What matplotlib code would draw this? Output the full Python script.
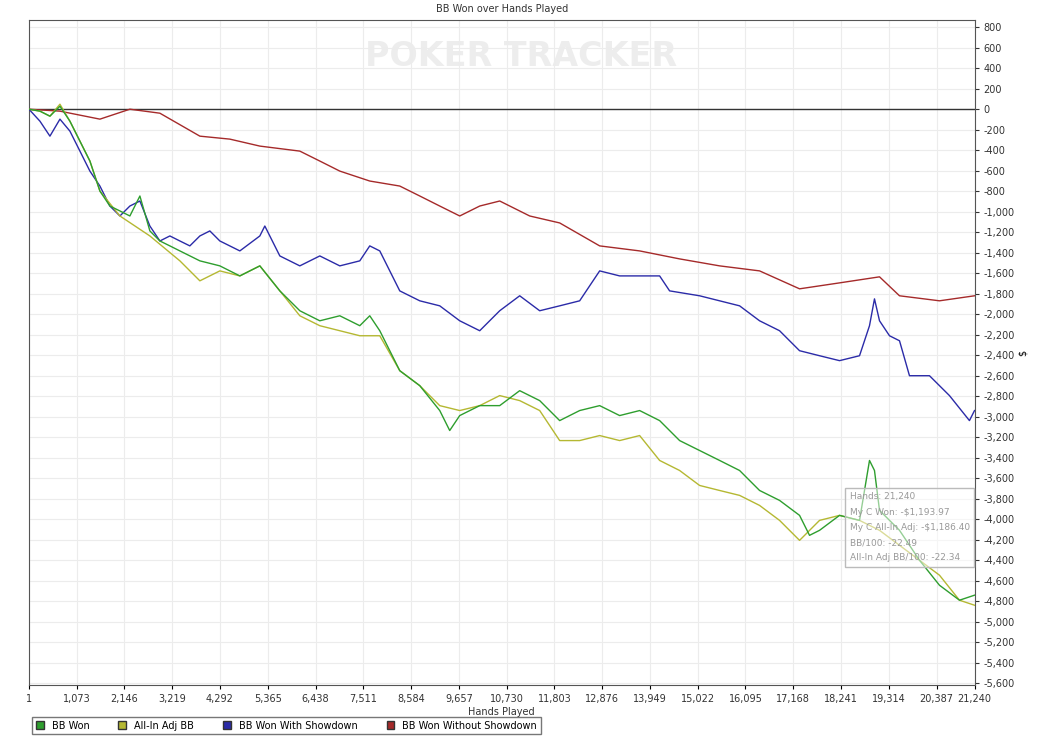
import matplotlib
matplotlib.use("Agg")
import matplotlib.pyplot as plt
from matplotlib.ticker import FuncFormatter

red_h = [1,697,1595,2268,2942,3840,4513,5187,6085,6534,6983,7656,8330,8779,9228,9677,10126,10575,11248,11922,12820,13718,14616,15514,16412,17310,18208,19106,19555,20453,21240]
red_v = [0,-19,-97,0,-39,-263,-292,-360,-409,-506,-604,-701,-750,-847,-945,-1042,-945,-896,-1042,-1110,-1334,-1383,-1461,-1529,-1578,-1753,-1695,-1636,-1821,-1870,-1821]

blue_h = [1,248,472,697,921,1146,1370,1595,1819,2044,2268,2493,2717,2942,3166,3391,3615,3840,4064,4289,4738,5187,5299,5636,6085,6534,6983,7432,7656,7881,8330,8779,9228,9677,10126,10575,11024,11473,11922,12371,12820,13269,13718,14167,14391,15065,15963,16412,16861,17310,17759,18208,18657,18881,18993,19106,19330,19555,19779,20228,20677,21126,21240]
blue_v = [0,-117,-263,-97,-214,-409,-604,-750,-945,-1042,-945,-896,-1140,-1286,-1237,-1286,-1334,-1237,-1188,-1286,-1383,-1237,-1140,-1432,-1529,-1432,-1529,-1480,-1334,-1383,-1773,-1870,-1919,-2065,-2162,-1967,-1821,-1967,-1919,-1870,-1578,-1627,-1627,-1627,-1773,-1821,-1919,-2065,-2162,-2357,-2406,-2454,-2406,-2113,-1851,-2065,-2211,-2260,-2601,-2601,-2795,-3039,-2941]

green_h = [1,248,472,697,921,1146,1370,1595,1819,2044,2268,2493,2717,2942,3166,3391,3840,4289,4738,5187,5636,6085,6534,6983,7432,7656,7881,8330,8779,9228,9452,9677,10126,10575,11024,11473,11922,12371,12820,13269,13718,14167,14616,15065,15514,15963,16412,16861,17310,17534,17759,18208,18657,18881,18993,19106,19555,20004,20453,20902,21240]
green_v = [0,-19,-68,29,-117,-312,-506,-799,-945,-993,-1042,-847,-1188,-1286,-1334,-1383,-1480,-1529,-1627,-1529,-1773,-1967,-2065,-2016,-2113,-2016,-2162,-2552,-2698,-2941,-3136,-2990,-2893,-2893,-2747,-2844,-3039,-2941,-2893,-2990,-2941,-3039,-3234,-3331,-3428,-3526,-3721,-3818,-3964,-4159,-4110,-3964,-4013,-3428,-3526,-3915,-4110,-4402,-4646,-4792,-4743]

yellow_h = [1,248,472,697,921,1146,1370,1595,2044,2717,3391,3840,4289,4738,5187,5636,6085,6534,6983,7432,7881,8330,8779,9228,9677,10126,10575,11024,11473,11922,12371,12820,13269,13718,14167,14616,15065,15514,15963,16412,16861,17310,17759,18208,18657,19106,19555,20004,20453,20902,21240]
yellow_v = [0,-19,-68,49,-117,-312,-506,-799,-1042,-1237,-1480,-1675,-1578,-1627,-1529,-1773,-2016,-2113,-2162,-2211,-2211,-2552,-2698,-2893,-2941,-2893,-2795,-2844,-2941,-3234,-3234,-3185,-3234,-3185,-3428,-3526,-3672,-3721,-3769,-3867,-4013,-4208,-4013,-3964,-4013,-4110,-4256,-4402,-4548,-4792,-4841]

xticks = [1,1073,2146,3219,4292,5365,6438,7511,8584,9657,10730,11803,12876,13949,15022,16095,17168,18241,19314,20387,21240]
yticks = list(range(-5600, 801, 200))

fig = plt.figure(figsize=(10.49, 7.43), dpi=100)
fig.patch.set_facecolor("white")
ax = fig.add_axes([0.0276, 0.078, 0.9014, 0.895])
ax.plot(red_h, red_v, color="#a52a2a", lw=1, label="BB Won Without Showdown", zorder=3)
ax.plot(blue_h, blue_v, color="#2b2ba8", lw=1, label="BB Won With Showdown", zorder=3)
ax.plot(yellow_h, yellow_v, color="#b5b832", lw=1, label="All-In Adj BB", zorder=4)
ax.plot(green_h, green_v, color="#2e9e2e", lw=1, label="BB Won", zorder=5)
ax.axhline(0, color="#333333", lw=1, zorder=2)
ax.set_xlim(1, 21240)
ax.set_ylim(-5620, 870)
ax.set_xticks(xticks)
ax.set_xticklabels([f"{t:,}" for t in xticks], fontsize=7, color="#333333")
ax.set_yticks(yticks)
ax.yaxis.tick_right()
ax.yaxis.set_label_position("right")
ax.yaxis.set_major_formatter(FuncFormatter(lambda v, p: f"{int(v):,}"))
ax.tick_params(axis="y", labelsize=7, colors="#333333", length=3)
ax.tick_params(axis="x", length=3)
ax.grid(True, color="#ececec", lw=0.8, zorder=0)
ax.set_ylabel("$", fontsize=7, rotation=90, labelpad=2)
ax.set_xlabel("Hands Played", fontsize=7, labelpad=2, color="#333333")
for s in ax.spines.values():
    s.set_color("#555555")
ax.set_title("BB Won over Hands Played", fontsize=7, pad=6, color="#333333")
ax.text(0.52, 0.945, "POKER TRACKER", transform=ax.transAxes, ha="center", va="center",
        fontsize=24, fontweight="bold", color="#ededed", zorder=1)
tip = "Hands: 21,240\nMy C Won: -$1,193.97\nMy C All-In Adj: -$1,186.40\nBB/100: -22.49\nAll-In Adj BB/100: -22.34"
ax.text(0.868, 0.29, tip, transform=ax.transAxes, fontsize=6.5, color="#999999", va="top",
        linespacing=1.9, zorder=6,
        bbox=dict(boxstyle="square,pad=0.5", fc=(1, 1, 1, 0.5), ec="#bbbbbb"))
fig.legend([plt.Rectangle((0, 0), 1, 1, fc=c, ec="#333333") for c in ["#2e9e2e", "#b5b832", "#2b2ba8", "#a52a2a"]],
           ["BB Won", "All-In Adj BB", "BB Won With Showdown", "BB Won Without Showdown"],
           loc="lower left", bbox_to_anchor=(0.026, 0.005), ncol=4, fontsize=7,
           frameon=True, fancybox=False, edgecolor="#555555", handlelength=0.8,
           handleheight=0.8, columnspacing=3)
fig.savefig("out.png", dpi=100)
